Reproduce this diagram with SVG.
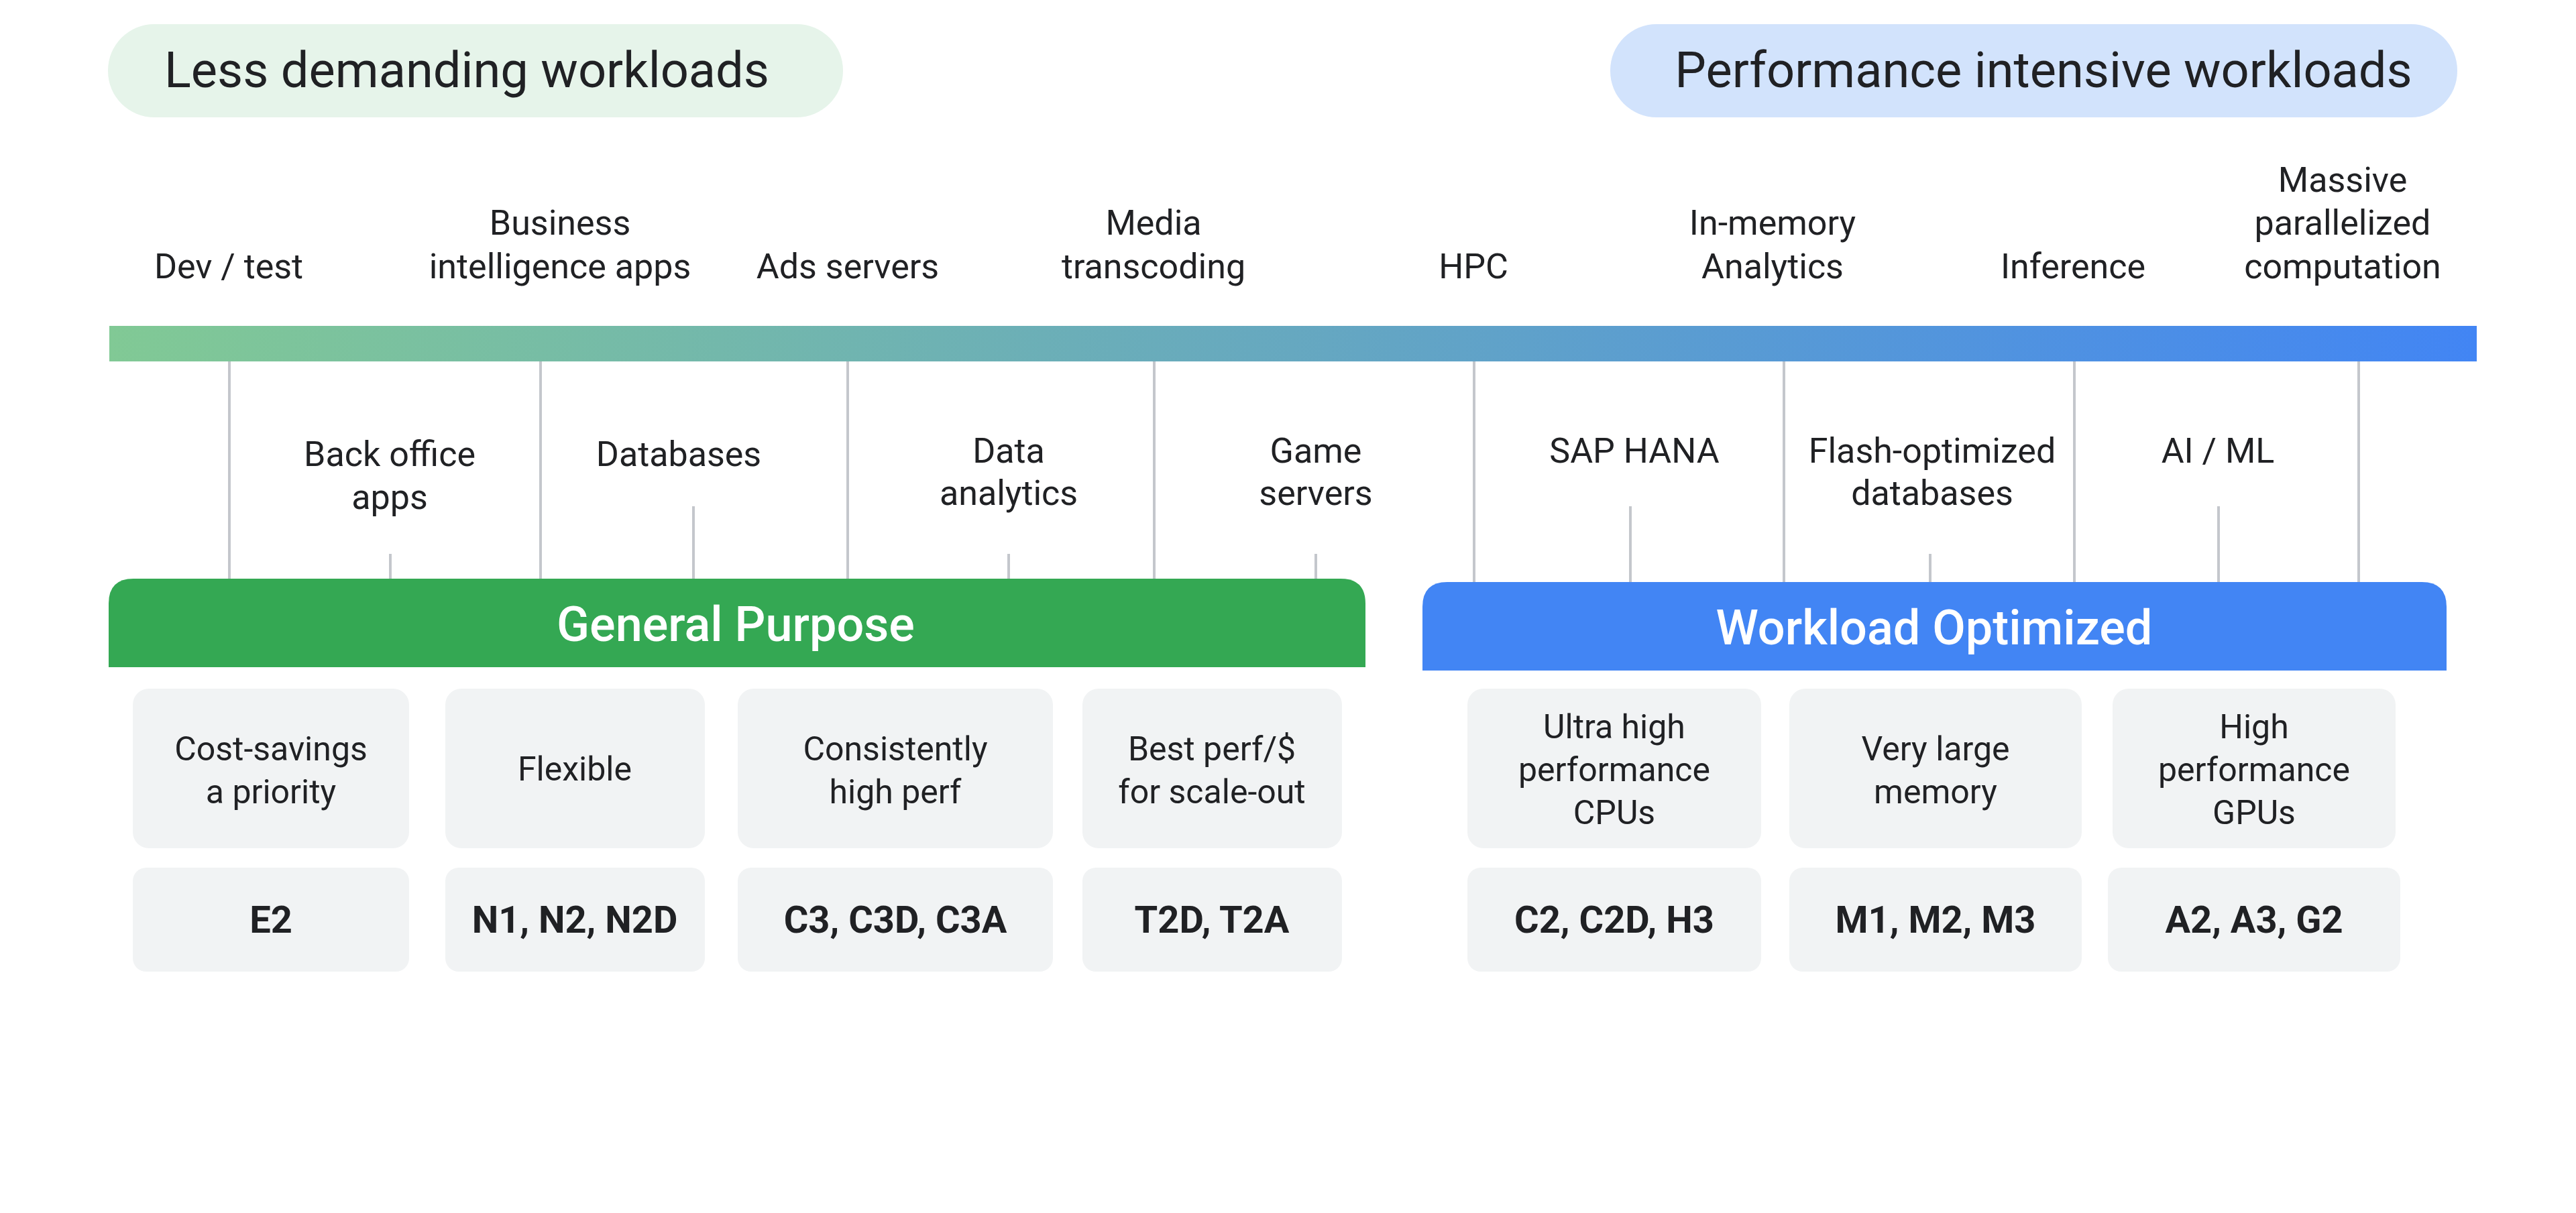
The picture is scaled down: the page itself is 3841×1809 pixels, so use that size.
<svg xmlns="http://www.w3.org/2000/svg" width="3841" height="1809" viewBox="0 0 3841 1809">
<style>
text{font-family:Roboto,"Liberation Sans",sans-serif;fill:#202124;text-anchor:middle}
.pill{font-size:74px}
.lbl{font-size:52px}
.hdr{font-size:72px;fill:#fff;font-weight:500}
.c1{font-size:50px}
.c2{font-size:56px;font-weight:700}
.card{fill:#f1f3f4}
.ln{stroke:#c4c7cc;stroke-width:4}
</style>
<defs>
<linearGradient id="g" x1="0" x2="1" y1="0" y2="0">
<stop offset="0" stop-color="#81c995"/><stop offset="0.5" stop-color="#66a8c0"/><stop offset="1" stop-color="#4285f4"/>
</linearGradient>
</defs>
<rect width="3841" height="1809" fill="#fff"/>
<g id="pill-less"><rect x="161" y="36" width="1096" height="139" rx="69" fill="#e6f4ea"/><text class="pill" x="696" y="130">Less demanding workloads</text></g>
<g id="pill-perf"><rect x="2401" y="36" width="1263" height="139" rx="69" fill="#d2e3fc"/><text class="pill" x="3047" y="130">Performance intensive workloads</text></g>
<g id="bar"><rect x="163" y="486" width="3530" height="53" fill="url(#g)"/></g>
<g id="connectors">
<line class="ln" x1="342" y1="539" x2="342" y2="864"/>
<line class="ln" x1="806" y1="539" x2="806" y2="864"/>
<line class="ln" x1="1264" y1="539" x2="1264" y2="864"/>
<line class="ln" x1="1721" y1="539" x2="1721" y2="864"/>
<line class="ln" x1="2198" y1="539" x2="2198" y2="868"/>
<line class="ln" x1="2660" y1="539" x2="2660" y2="868"/>
<line class="ln" x1="3093" y1="539" x2="3093" y2="868"/>
<line class="ln" x1="3517" y1="539" x2="3517" y2="868"/>
<line class="ln" x1="582" y1="826" x2="582" y2="864"/>
<line class="ln" x1="1034" y1="755" x2="1034" y2="864"/>
<line class="ln" x1="1504" y1="826" x2="1504" y2="864"/>
<line class="ln" x1="1962" y1="826" x2="1962" y2="864"/>
<line class="ln" x1="2431" y1="755" x2="2431" y2="868"/>
<line class="ln" x1="2878" y1="826" x2="2878" y2="868"/>
<line class="ln" x1="3308" y1="755" x2="3308" y2="868"/>
</g>
<g id="top-labels">
<text class="lbl" x="341" y="415">Dev / test</text>
<text class="lbl" x="835" y="350">Business</text><text class="lbl" x="835" y="415">intelligence apps</text>
<text class="lbl" x="1264" y="415">Ads servers</text>
<text class="lbl" x="1720" y="350">Media</text><text class="lbl" x="1720" y="415">transcoding</text>
<text class="lbl" x="2197" y="415">HPC</text>
<text class="lbl" x="2643" y="350">In-memory</text><text class="lbl" x="2643" y="415">Analytics</text>
<text class="lbl" x="3091" y="415">Inference</text>
<text class="lbl" x="3493" y="286">Massive</text><text class="lbl" x="3493" y="350">parallelized</text><text class="lbl" x="3493" y="415">computation</text>
</g>
<g id="bottom-labels">
<text class="lbl" x="581" y="695">Back office</text><text class="lbl" x="581" y="759">apps</text>
<text class="lbl" x="1012" y="695">Databases</text>
<text class="lbl" x="1504" y="690">Data</text><text class="lbl" x="1504" y="753">analytics</text>
<text class="lbl" x="1962" y="690">Game</text><text class="lbl" x="1962" y="753">servers</text>
<text class="lbl" x="2437" y="690">SAP HANA</text>
<text class="lbl" x="2881" y="690">Flash-optimized</text><text class="lbl" x="2881" y="753">databases</text>
<text class="lbl" x="3307" y="690">AI / ML</text>
</g>
<g id="general-purpose"><path d="M162 995 V900 Q162 863 199 863 H1999 Q2036 863 2036 900 V995 Z" fill="#34a853"/><text class="hdr" x="1097" y="956">General Purpose</text></g>
<g id="workload-optimized"><path d="M2121 1000 V905 Q2121 868 2158 868 H3611 Q3648 868 3648 905 V1000 Z" fill="#4285f4"/><text class="hdr" x="2884" y="961">Workload Optimized</text></g>
<g id="card-cost"><rect class="card" x="198" y="1027" width="412" height="238" rx="24"/><text class="c1" x="404" y="1134">Cost-savings</text><text class="c1" x="404" y="1198">a priority</text></g>
<g id="card-flex"><rect class="card" x="664" y="1027" width="387" height="238" rx="24"/><text class="c1" x="857" y="1164">Flexible</text></g>
<g id="card-cons"><rect class="card" x="1100" y="1027" width="470" height="238" rx="24"/><text class="c1" x="1335" y="1134">Consistently</text><text class="c1" x="1335" y="1198">high perf</text></g>
<g id="card-best"><rect class="card" x="1614" y="1027" width="387" height="238" rx="24"/><text class="c1" x="1807" y="1134">Best perf/$</text><text class="c1" x="1807" y="1198">for scale-out</text></g>
<g id="card-ultra"><rect class="card" x="2188" y="1027" width="438" height="238" rx="24"/><text class="c1" x="2407" y="1101">Ultra high</text><text class="c1" x="2407" y="1165">performance</text><text class="c1" x="2407" y="1229">CPUs</text></g>
<g id="card-mem"><rect class="card" x="2668" y="1027" width="436" height="238" rx="24"/><text class="c1" x="2886" y="1134">Very large</text><text class="c1" x="2886" y="1198">memory</text></g>
<g id="card-gpu"><rect class="card" x="3150" y="1027" width="422" height="238" rx="24"/><text class="c1" x="3361" y="1101">High</text><text class="c1" x="3361" y="1165">performance</text><text class="c1" x="3361" y="1229">GPUs</text></g>
<g id="m-e2"><rect class="card" x="198" y="1294" width="412" height="155" rx="20"/><text class="c2" x="404" y="1391">E2</text></g>
<g id="m-n"><rect class="card" x="664" y="1294" width="387" height="155" rx="20"/><text class="c2" x="857" y="1391">N1, N2, N2D</text></g>
<g id="m-c3"><rect class="card" x="1100" y="1294" width="470" height="155" rx="20"/><text class="c2" x="1335" y="1391">C3, C3D, C3A</text></g>
<g id="m-t2"><rect class="card" x="1614" y="1294" width="387" height="155" rx="20"/><text class="c2" x="1807" y="1391">T2D, T2A</text></g>
<g id="m-c2"><rect class="card" x="2188" y="1294" width="438" height="155" rx="20"/><text class="c2" x="2407" y="1391">C2, C2D, H3</text></g>
<g id="m-m"><rect class="card" x="2668" y="1294" width="436" height="155" rx="20"/><text class="c2" x="2886" y="1391">M1, M2, M3</text></g>
<g id="m-a"><rect class="card" x="3143" y="1294" width="436" height="155" rx="20"/><text class="c2" x="3361" y="1391">A2, A3, G2</text></g>
</svg>
